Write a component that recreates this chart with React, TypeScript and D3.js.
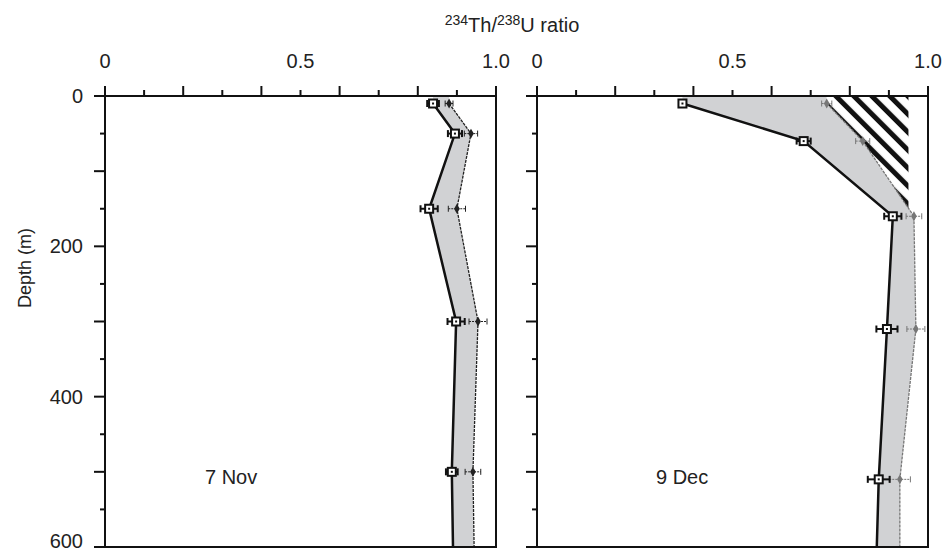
import { useEffect, useRef } from 'react';
import * as d3 from 'd3';

// 7 Nov profile: depth (m), 234Th/238U (total, squares) and the second ratio (diamonds)
const novDepth = [10, 50, 150, 300, 500];
const novSquare = [0.839, 0.895, 0.829, 0.898, 0.887];
const novSquareErr = [0.015, 0.018, 0.022, 0.022, 0.015];
const novDiamond = [0.88, 0.936, 0.9, 0.954, 0.941];
const novDiamondErr = [0.01, 0.017, 0.022, 0.023, 0.02];
const novBottom = [0.89, 0.944];

// 9 Dec profile
const decDepth = [10, 60, 160, 310, 510];
const decSquare = [0.372, 0.682, 0.91, 0.895, 0.874];
const decSquareErr = [0.006, 0.018, 0.022, 0.027, 0.028];
const decDiamond = [0.741, 0.833, 0.964, 0.969, 0.928];
const decDiamondErr = [0.013, 0.018, 0.02, 0.023, 0.027];
const decBottom = [0.869, 0.928];
const decHatchLimit = 0.95;

const ratioTicks = d3.range(0, 11).map(i => i / 10);
const ratioLabels = [0, 0.5, 1.0];
const depthTicks = d3.range(0, 13).map(i => i * 50);
const depthLabels = [0, 200, 400, 600];
const maxDepth = 600;

const FONT = '"Liberation Sans", Arial, Helvetica, sans-serif';

type Pt = { depth: number; v: number; e: number };

function App() {
  const svgRef = useRef<SVGSVGElement>(null);

  useEffect(() => {
    const width = 944;
    const height = 552;
    const top = 96;
    const bottom = 547;

    const svg = d3.select(svgRef.current)
      .attr('width', width)
      .attr('height', height);
    svg.selectAll('*').remove();

    const yScale = d3.scaleLinear().domain([0, maxDepth]).range([top, bottom]);

    // hatch pattern
    const defs = svg.append('defs');
    const pat = defs.append('pattern')
      .attr('id', 'hatch')
      .attr('patternUnits', 'userSpaceOnUse')
      .attr('width', 12.7)
      .attr('height', 12.7)
      .attr('patternTransform', 'rotate(-45)');
    pat.append('rect').attr('width', 12.7).attr('height', 12.7).attr('fill', '#fff');
    pat.append('rect').attr('x', 0).attr('width', 5).attr('height', 12.7).attr('fill', '#111');

    const panels = [
      {
        x0: 105, label: '7 Nov', labelX: 205, depth: novDepth,
        sq: novSquare, sqErr: novSquareErr, di: novDiamond, diErr: novDiamondErr,
        bottomVals: novBottom, yLabels: true, diColor: '#222', hatch: null as number | null,
      },
      {
        x0: 537, label: '9 Dec', labelX: 656, depth: decDepth,
        sq: decSquare, sqErr: decSquareErr, di: decDiamond, diErr: decDiamondErr,
        bottomVals: decBottom, yLabels: false, diColor: '#777', hatch: decHatchLimit,
      },
    ];

    panels.forEach(p => {
      const xScale = d3.scaleLinear().domain([0, 1]).range([p.x0, p.x0 + 391]);
      const g = svg.append('g');

      const squares: Pt[] = p.depth.map((d, i) => ({ depth: d, v: p.sq[i], e: p.sqErr[i] }));
      const diamonds: Pt[] = p.depth.map((d, i) => ({ depth: d, v: p.di[i], e: p.diErr[i] }));

      // grey band between the two profiles
      const bandData = [
        { depth: 0, a: p.sq[0], b: p.di[0] },
        ...p.depth.map((d, i) => ({ depth: d, a: p.sq[i], b: p.di[i] })),
        { depth: maxDepth, a: p.bottomVals[0], b: p.bottomVals[1] },
      ];
      const band = d3.area<{ depth: number; a: number; b: number }>()
        .y(d => yScale(d.depth))
        .x0(d => xScale(d.a))
        .x1(d => xScale(d.b));
      g.append('path')
        .datum(bandData)
        .attr('d', band)
        .attr('fill', '#d1d2d4');

      // hatched area right of the diamond profile
      if (p.hatch !== null) {
        const lim = p.hatch;
        const poly: [number, number][] = [[p.di[0], 0]];
        for (let i = 0; i < p.depth.length; i++) {
          if (p.di[i] < lim) {
            poly.push([p.di[i], p.depth[i]]);
          } else {
            const t = (lim - p.di[i - 1]) / (p.di[i] - p.di[i - 1]);
            poly.push([lim, p.depth[i - 1] + t * (p.depth[i] - p.depth[i - 1])]);
            break;
          }
        }
        poly.push([lim, 0]);
        g.append('path')
          .attr('d', d3.line()(poly.map(q => [xScale(q[0]), yScale(q[1])]))! + 'Z')
          .attr('fill', 'url(#hatch)');
      }

      const line = d3.line<{ depth: number; v: number }>()
        .x(d => xScale(d.v))
        .y(d => yScale(d.depth));

      // diamond profile (thin, dashed)
      g.append('path')
        .datum([...diamonds, { depth: maxDepth, v: p.bottomVals[1], e: 0 }])
        .attr('d', line)
        .attr('fill', 'none')
        .attr('stroke', p.diColor)
        .attr('stroke-width', 1.3)
        .attr('stroke-dasharray', '3,1');

      // square profile (thick black)
      g.append('path')
        .datum([...squares, { depth: maxDepth, v: p.bottomVals[0], e: 0 }])
        .attr('d', line)
        .attr('fill', 'none')
        .attr('stroke', '#111')
        .attr('stroke-width', 2.5);

      // diamond error bars + markers
      diamonds.forEach(d => {
        const cy = yScale(d.depth);
        const xa = xScale(d.v - d.e);
        const xb = xScale(d.v + d.e);
        g.append('line').attr('x1', xa).attr('x2', xb).attr('y1', cy).attr('y2', cy)
          .attr('stroke', p.diColor).attr('stroke-width', 1).attr('stroke-dasharray', '2,1');
        [xa, xb].forEach(x => {
          g.append('line').attr('x1', x).attr('x2', x).attr('y1', cy - 3).attr('y2', cy + 3)
            .attr('stroke', p.diColor).attr('stroke-width', 1);
        });
        g.append('path')
          .attr('d', d3.symbol().type(d3.symbolDiamond).size(28)())
          .attr('transform', `translate(${xScale(d.v)},${cy})`)
          .attr('fill', p.diColor);
      });

      // square error bars + markers
      squares.forEach(d => {
        const cy = yScale(d.depth);
        const xa = xScale(d.v - d.e);
        const xb = xScale(d.v + d.e);
        g.append('line').attr('x1', xa).attr('x2', xb).attr('y1', cy).attr('y2', cy)
          .attr('stroke', '#111').attr('stroke-width', 2);
        [xa, xb].forEach(x => {
          g.append('line').attr('x1', x).attr('x2', x).attr('y1', cy - 3.5).attr('y2', cy + 3.5)
            .attr('stroke', '#111').attr('stroke-width', 2);
        });
        const cx = xScale(d.v);
        g.append('rect')
          .attr('x', cx - 4).attr('y', cy - 4).attr('width', 8).attr('height', 8)
          .attr('fill', '#fff').attr('stroke', '#111').attr('stroke-width', 2);
        g.append('rect')
          .attr('x', cx - 1).attr('y', cy - 1).attr('width', 2).attr('height', 2)
          .attr('fill', '#111');
      });

      // frame
      const [xl, xr] = xScale.range();
      g.append('rect')
        .attr('x', xl).attr('y', top)
        .attr('width', xr - xl).attr('height', bottom - top)
        .attr('fill', 'none').attr('stroke', '#111').attr('stroke-width', 2);

      // top ratio ticks
      ratioTicks.forEach((t, i) => {
        const len = i % 2 === 0 ? 10 : 6;
        g.append('line')
          .attr('x1', xScale(t)).attr('x2', xScale(t))
          .attr('y1', top).attr('y2', top - len)
          .attr('stroke', '#111').attr('stroke-width', 2);
      });
      ratioLabels.forEach(t => {
        g.append('text')
          .attr('x', xScale(t)).attr('y', 68)
          .attr('text-anchor', 'middle')
          .style('font-family', FONT).style('font-size', '20px').attr('fill', '#222')
          .text(t === 0 ? '0' : t.toFixed(1));
      });

      // left depth ticks
      depthTicks.forEach(t => {
        const len = t % 100 === 0 ? 11 : 5;
        g.append('line')
          .attr('x1', xl).attr('x2', xl - len)
          .attr('y1', yScale(t)).attr('y2', yScale(t))
          .attr('stroke', '#111').attr('stroke-width', 2);
      });
      if (p.yLabels) {
        depthLabels.forEach(t => {
          g.append('text')
            .attr('x', xl - 22).attr('y', Math.min(yScale(t), 541))
            .attr('dy', '0.35em')
            .attr('text-anchor', 'end')
            .style('font-family', FONT).style('font-size', '20px').attr('fill', '#222')
            .text(t);
        });
      }

      // panel label
      g.append('text')
        .attr('x', p.labelX).attr('y', 484)
        .style('font-family', FONT).style('font-size', '20px').attr('fill', '#222')
        .text(p.label);
    });

    // axis title with superscripts
    const title = svg.append('text')
      .attr('x', 512).attr('y', 32)
      .attr('text-anchor', 'middle')
      .style('font-family', FONT).style('font-size', '20px').attr('fill', '#222');
    title.append('tspan').attr('font-size', '14px').attr('dy', '-7').text('234');
    title.append('tspan').attr('dy', '7').text('Th/');
    title.append('tspan').attr('font-size', '14px').attr('dy', '-7').text('238');
    title.append('tspan').attr('dy', '7').text('U ratio');

    // depth axis title
    svg.append('text')
      .attr('transform', 'translate(25,268) rotate(-90)')
      .attr('dy', '0.35em')
      .attr('text-anchor', 'middle')
      .style('font-family', FONT).style('font-size', '18px').attr('fill', '#222')
      .text('Depth (m)');
  }, []);

  return (
    <div style={{ position: 'absolute', left: 0, top: 0 }}>
      <svg ref={svgRef}></svg>
    </div>
  );
}

export default App;
